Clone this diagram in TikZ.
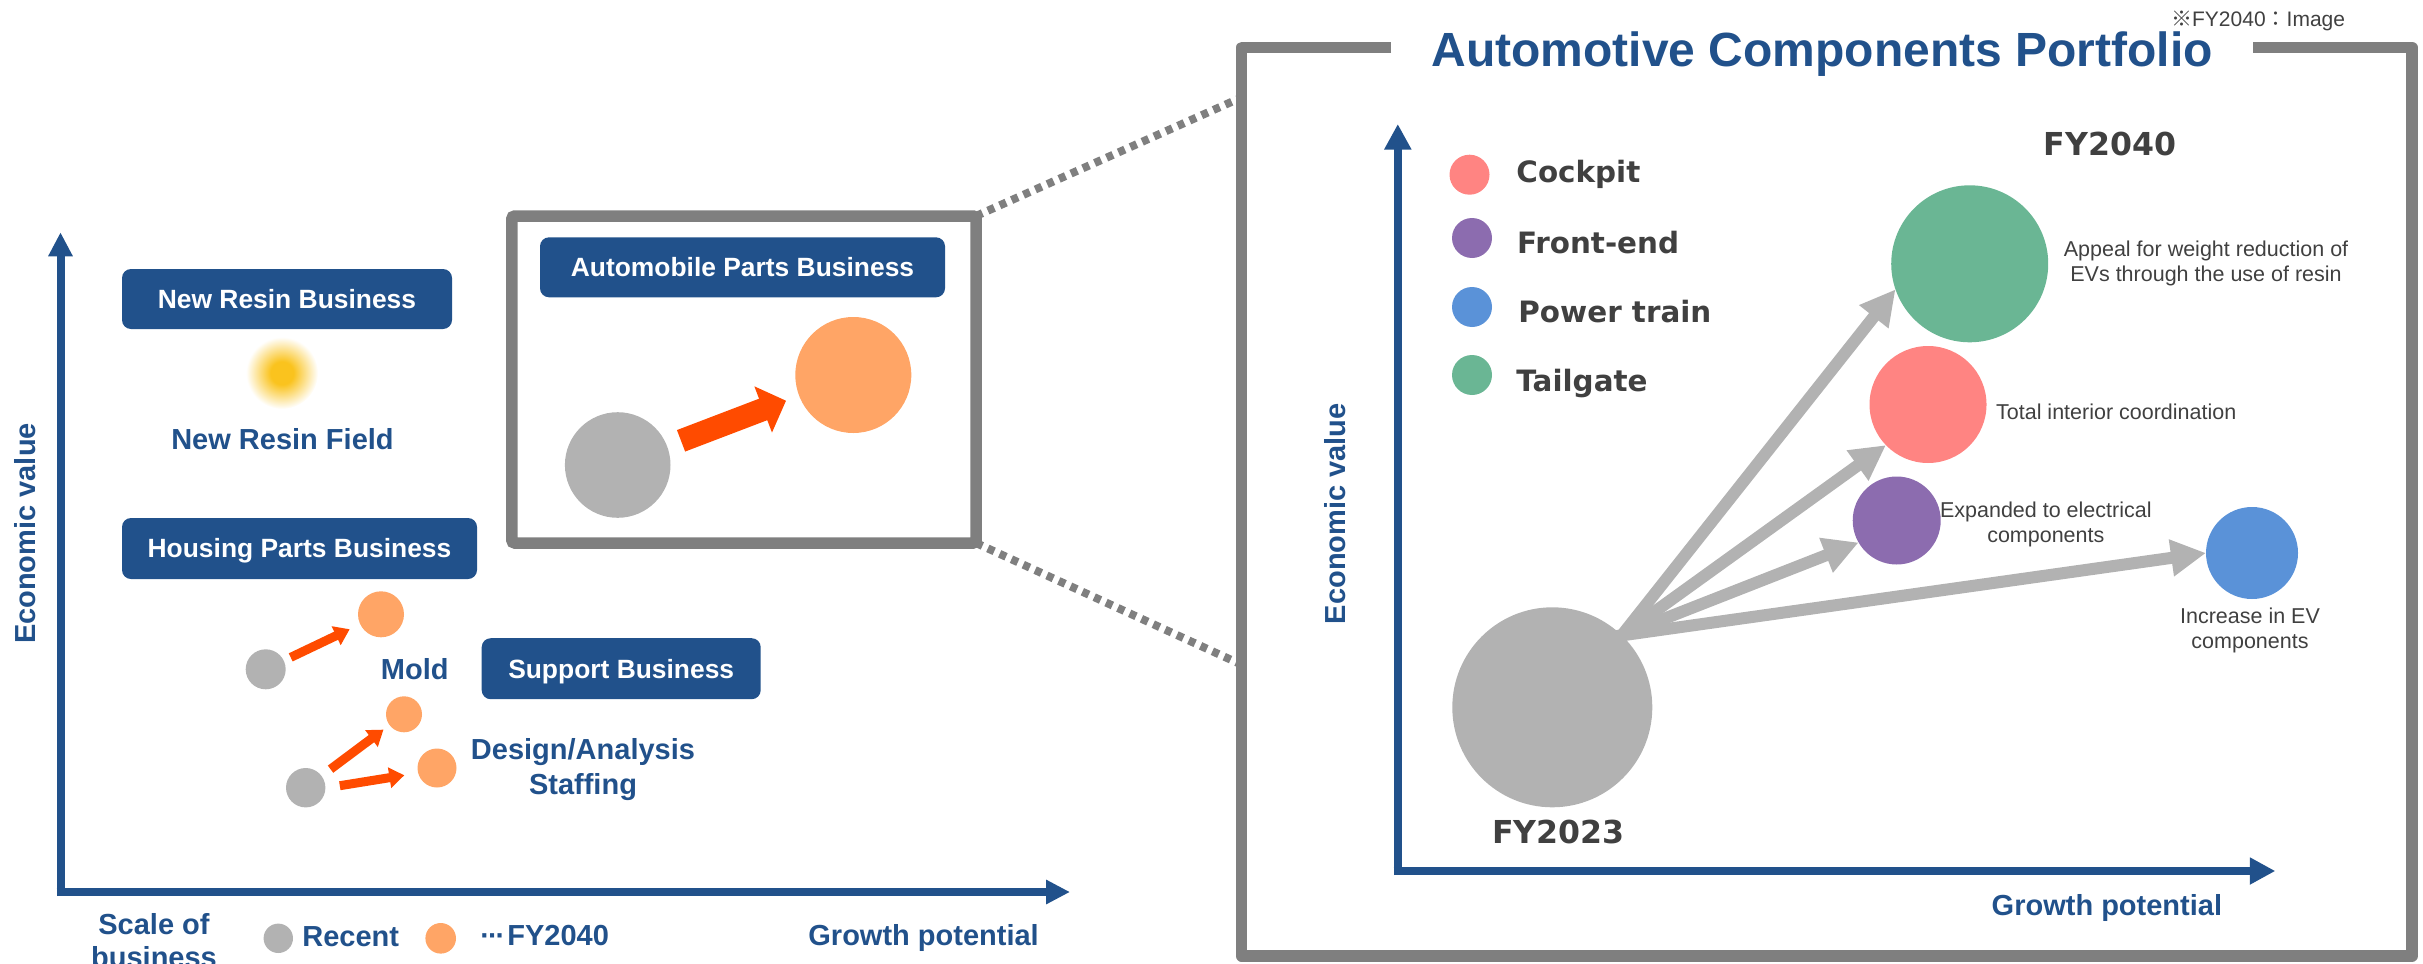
\documentclass[tikz,border=0pt]{standalone}
\usepackage{fontspec}
\setmainfont{Liberation Sans}
\newfontfamily\legendfont{DejaVu Sans}
\newfontfamily\yearfont{DejaVu Sans}
\newfontfamily\cjkfont{Noto Sans CJK JP}
\usetikzlibrary{arrows.meta}

\definecolor{navy}{RGB}{33,81,139}
\definecolor{fyorange}{RGB}{255,165,102}
\definecolor{recentgray}{RGB}{178,178,178}
\definecolor{arrowred}{RGB}{255,75,0}
\definecolor{framegray}{RGB}{127,127,127}
\definecolor{txtgray}{RGB}{64,64,64}
\definecolor{cockpitpink}{RGB}{255,132,130}
\definecolor{frontpurple}{RGB}{140,108,175}
\definecolor{powerblue}{RGB}{90,146,216}
\definecolor{tailgreen}{RGB}{106,182,148}
\definecolor{glowyellow}{RGB}{250,195,30}

\pgfdeclareradialshading{resinglow}{\pgfpoint{0bp}{0bp}}{color(0bp)=(glowyellow); color(8bp)=(glowyellow); color(25bp)=(white); color(50bp)=(white)}

\tikzset{
  bizbox/.style={rectangle, rounded corners=4.5pt, fill=navy, text=white,
    font=\bfseries\fontsize{13.2}{15}\selectfont, inner sep=0pt,
    text height=9.45pt, text depth=0pt},
  axislabel/.style={text=navy, font=\bfseries\fontsize{14.5}{17}\selectfont, inner sep=0pt},
  bubble/.style={circle, inner sep=0pt, outer sep=0pt, minimum size=#1},
  bigpush/.style={arrowred, line width=11.5pt, -{Triangle[length=12.25pt,width=24pt]}},
  smallpush/.style={arrowred, line width=4.5pt, -{Triangle[length=7.5pt,width=10pt]}},
  fanarrow/.style={recentgray, line width=6pt, -{Triangle[length=17.5pt,width=17.5pt]}, shorten <=-5pt},
  axisarrow/.style={navy, line width=4pt, -{Triangle[length=12pt,width=11.5pt]}},
  axisarrowR/.style={navy, line width=4.25pt, -{Triangle[length=12.75pt,width=12.75pt]}},
  zoomline/.style={framegray, line width=4pt, dash pattern=on 3.5pt off 3pt},
  legendtxt/.style={text=txtgray, font=\legendfont\bfseries\fontsize{14.7}{18}\selectfont, inner sep=0pt, anchor=base west},
  yeartxt/.style={text=txtgray, font=\yearfont\bfseries\fontsize{15.8}{19}\selectfont, inner sep=0pt, anchor=base west},
  note/.style={text=txtgray, font=\fontsize{10.75}{12.5}\selectfont, inner sep=0pt}
}

\begin{document}
\begin{tikzpicture}[x=0.5pt, y=-0.5pt]
\useasboundingbox (0,0) rectangle (2423,963);

% ---------- left chart: axes ----------
\coordinate (lyb) at (60.5,896);
\coordinate (lyt) at (60.5,232.3);
\coordinate (lxl) at (56.5,892);
\coordinate (lxr) at (1070,892);
\draw[axisarrow] (lyb) -- (lyt);
\draw[axisarrow] (lxl) -- (lxr);
\node[axislabel, rotate=90, anchor=base] (evleft) at (35.7,533.5) {Economic value};

% ---------- left chart: businesses ----------
\node[bizbox, minimum width=165pt, minimum height=30pt] (newresin) at (287,299) {New Resin Business};
\shade[shading=resinglow] (282,373) circle (36);
\node[axislabel, anchor=base] (resinfield) at (282.5,449) {New Resin Field};

\node[bizbox, minimum width=177.5pt, minimum height=30.5pt] (housing) at (299.5,548.5) {Housing Parts Business};
\node[bubble=20pt, fill=recentgray] (moldnow) at (265.7,669.3) {};
\node[bubble=23pt, fill=fyorange] (moldfut) at (381,614.3) {};
\draw[smallpush, shorten <=3.85pt, shorten >=5.85pt] (moldnow) -- (moldfut);
\node[axislabel, anchor=base] (moldlbl) at (414.7,679) {Mold};

\node[bizbox, minimum width=139.5pt, minimum height=30.5pt] (support) at (621.2,668.7) {Support Business};
\node[bubble=19.7pt, fill=recentgray] (designnow) at (305.7,787.7) {};
\node[bubble=18pt, fill=fyorange] (designfut) at (404,714.3) {};
\node[bubble=19.5pt, fill=fyorange] (stafffut) at (437,768) {};
\draw[smallpush, shorten <=5.65pt, shorten >=3.8pt] (designnow) -- (designfut);
\draw[smallpush, shorten <=7.3pt, shorten >=7pt] (designnow.-1) -- (stafffut.195);
% multi-line labels: the base anchor sits on the last line
\node[axislabel, anchor=base, align=center, font=\bfseries\fontsize{14.5}{17.35}\selectfont] (designlbl) at (583,794) {Design/Analysis\\Staffing};

% ---------- left chart: key and axis names ----------
\node[axislabel, anchor=base, align=center, font=\bfseries\fontsize{14.5}{16.5}\selectfont] (scalelbl) at (154,967) {Scale of\\business};
\node[bubble=14.7pt, fill=recentgray] (keynow) at (278.3,938.3) {};
\node[axislabel, anchor=base west] (recentlbl) at (302,946.7) {Recent};
\node[bubble=15.3pt, fill=fyorange] (keyfut) at (440.7,938.3) {};
\node[axislabel, anchor=base west] (fylbl) at (480,945) {·\kern-1pt·\kern-1pt·\kern1pt FY2040};
\node[axislabel, anchor=base west] (growthl) at (808,945) {Growth potential};

% ---------- automobile parts (magnified area) ----------
\node[draw=framegray, line width=5.75pt, rounded corners=1.5pt, inner sep=0pt, outer sep=0pt,
      minimum width=232.1pt, minimum height=163.5pt] (autoframe) at (743.9,379.5) {};
\node[bizbox, minimum width=202.5pt, minimum height=30pt] (autobiz) at (742.5,267.3) {Automobile Parts Business};
\node[bubble=52.8pt, fill=recentgray] (autonow) at (617.7,465) {};
\node[bubble=58pt, fill=fyorange] (autofut) at (853.3,375) {};
\draw[bigpush, shorten <=7.5pt, shorten >=7pt] (autonow) -- (autofut);

\coordinate (ptop) at (1238,99);
\coordinate (pbot) at (1238,663);
\draw[zoomline] (autoframe.north east) -- (ptop);
\draw[zoomline] (autoframe.south east) -- (pbot);

% ---------- portfolio panel ----------
\draw[framegray, line width=5.75pt, line join=round]
  (1391,47.5) -- (1241.7,47.5) -- (1241.7,956) -- (2412,956) -- (2412,47.5) -- (2253.3,47.5);
\node[text=navy, font=\bfseries\fontsize{24}{28}\selectfont, anchor=base, inner sep=0pt] (title) at (1822.2,66.7) {Automotive Components Portfolio};
\node[text=txtgray, font=\fontsize{10.5}{12}\selectfont, inner sep=0pt, anchor=base west] (imgnote) at (2170.7,26.7) {{\cjkfont ※}FY2040{\cjkfont ：}Image};

\coordinate (ryb) at (1397.8,875);
\coordinate (ryt) at (1397.8,124);
\coordinate (rxl) at (1393.5,871);
\coordinate (rxr) at (2275.3,871);
\draw[axisarrowR] (ryb) -- (ryt);
\draw[axisarrowR] (rxl) -- (rxr);
\node[axislabel, rotate=90, anchor=base] (evright) at (1345,513.7) {Economic value};
\node[axislabel, anchor=base west] (growthr) at (1991.3,915) {Growth potential};

% legend
\node[bubble=20pt, fill=cockpitpink] (kcock) at (1469.5,174.7) {};
\node[bubble=20pt, fill=frontpurple] (kfront) at (1472,238) {};
\node[bubble=20pt, fill=powerblue] (kpower) at (1472,307) {};
\node[bubble=20pt, fill=tailgreen] (ktail) at (1472,375) {};
\node[legendtxt] (tcock) at (1516,182.7) {Cockpit};
\node[legendtxt] (tfront) at (1516.7,253.3) {Front-end};
\node[legendtxt] (tpower) at (1518,322.7) {Power train};
\node[legendtxt] (ttail) at (1516,391.7) {Tailgate};

% bubbles
\node[bubble=100pt, fill=recentgray] (fy23) at (1552.3,707.3) {};
\node[bubble=78.5pt, fill=tailgreen] (tailb) at (1969.7,263.8) {};
\node[bubble=58.5pt, fill=cockpitpink] (cockb) at (1928,404.5) {};
\node[bubble=44pt, fill=frontpurple] (frontb) at (1896.7,520.5) {};
\node[bubble=46pt, fill=powerblue] (powerb) at (2252,553) {};

\draw[fanarrow] (fy23.46) -- (tailb.199);
\draw[fanarrow] (fy23.46) -- (cockb.224);
\draw[fanarrow] (fy23.46) -- (frontb.210);
\draw[fanarrow] (fy23.46) -- (powerb.180);

\node[yeartxt] (y40) at (2043.3,155.7) {FY2040};
\node[yeartxt] (y23) at (1491.7,843.3) {FY2023};

\node[note, anchor=base, align=center] (appeal) at (2206,281.7) {Appeal for weight reduction of\\EVs through the use of resin};
\node[note, anchor=base west] (interior) at (1995.7,419) {Total interior coordination};
\node[note, anchor=base, align=center] (expand) at (2045.8,542.7) {Expanded to electrical\\components};
\node[note, anchor=base, align=center] (evinc) at (2250,648.3) {Increase in EV\\components};
\end{tikzpicture}
\end{document}
